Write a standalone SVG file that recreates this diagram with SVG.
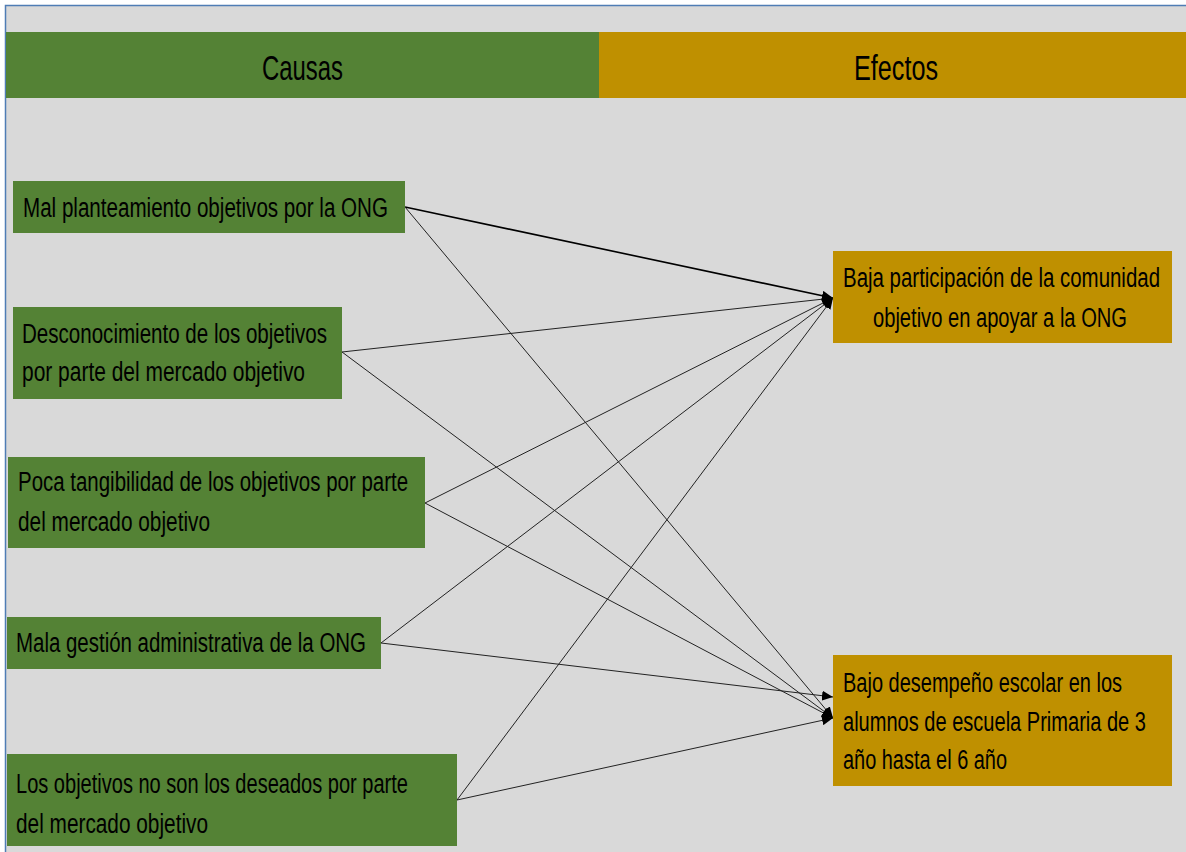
<svg xmlns="http://www.w3.org/2000/svg" width="1186" height="852" viewBox="0 0 1186 852">
<defs>
<style>
.t{font-family:"Liberation Sans Narrow","Liberation Sans",Arial,sans-serif;font-size:28px;fill:#000;}
.h{font-family:"Liberation Sans Narrow","Liberation Sans",Arial,sans-serif;font-size:36px;fill:#000;}
.cause{fill:#548235;}
.effect{fill:#bf9000;}
.c{stroke:#222;stroke-width:1;fill:none;marker-end:url(#ah);}
</style>
<marker id="ah" markerUnits="userSpaceOnUse" markerWidth="12" markerHeight="10" refX="11" refY="5" orient="auto">
<path d="M0,0 L11,5 L0,10 Z" fill="#000"/>
</marker>
</defs>
<rect x="0" y="0" width="1186" height="852" fill="#ffffff"/>
<rect x="5" y="5" width="1181" height="847" fill="#d9d9d9"/>
<path d="M5.5,852 V5.5 H1186" stroke="#4f7db5" stroke-width="1.5" fill="none"/>

<g id="header-causas">
<rect x="6" y="32" width="593" height="66" class="cause"/>
<text class="h" transform="translate(262,80) scale(0.72,1)" textLength="112.5" lengthAdjust="spacingAndGlyphs">Causas</text>
</g>
<g id="header-efectos">
<rect x="599" y="32" width="587" height="66" class="effect"/>
<text class="h" transform="translate(854,80) scale(0.72,1)" textLength="116.7" lengthAdjust="spacingAndGlyphs">Efectos</text>
</g>

<g id="connectors">
<line class="c" x1="405" y1="207" x2="833" y2="298" style="stroke:#000;stroke-width:1.6"/>
<line class="c" x1="405" y1="207" x2="833" y2="718"/>
<line class="c" x1="342" y1="352" x2="833" y2="298"/>
<line class="c" x1="342" y1="352" x2="833" y2="718"/>
<line class="c" x1="425" y1="503" x2="833" y2="298"/>
<line class="c" x1="425" y1="503" x2="833" y2="718"/>
<line class="c" x1="381" y1="643" x2="833" y2="298"/>
<line class="c" x1="381" y1="643" x2="833" y2="697"/>
<line class="c" x1="457" y1="800" x2="833" y2="298"/>
<line class="c" x1="457" y1="800" x2="833" y2="718"/>
</g>

<g id="cause1">
<rect x="13" y="181" width="392" height="52" class="cause"/>
<text class="t" transform="translate(23,217) scale(0.72,1)" textLength="506.9" lengthAdjust="spacingAndGlyphs">Mal planteamiento objetivos por la ONG</text>
</g>
<g id="cause2">
<rect x="13" y="307" width="329" height="92" class="cause"/>
<text class="t" transform="translate(22,343) scale(0.72,1)" textLength="423.6" lengthAdjust="spacingAndGlyphs">Desconocimiento de los objetivos</text>
<text class="t" transform="translate(22,381) scale(0.72,1)" textLength="393.1" lengthAdjust="spacingAndGlyphs">por parte del mercado objetivo</text>
</g>
<g id="cause3">
<rect x="8" y="457" width="417" height="91" class="cause"/>
<text class="t" transform="translate(18,491) scale(0.72,1)" textLength="541.7" lengthAdjust="spacingAndGlyphs">Poca tangibilidad de los objetivos por parte</text>
<text class="t" transform="translate(18,531) scale(0.72,1)" textLength="266.7" lengthAdjust="spacingAndGlyphs">del mercado objetivo</text>
</g>
<g id="cause4">
<rect x="7" y="617" width="374" height="52" class="cause"/>
<text class="t" transform="translate(16,652) scale(0.72,1)" textLength="486.1" lengthAdjust="spacingAndGlyphs">Mala gestión administrativa de la ONG</text>
</g>
<g id="cause5">
<rect x="7" y="754" width="450" height="92" class="cause"/>
<text class="t" transform="translate(16,793) scale(0.72,1)" textLength="544.4" lengthAdjust="spacingAndGlyphs">Los objetivos no son los deseados por parte</text>
<text class="t" transform="translate(16,833) scale(0.72,1)" textLength="266.7" lengthAdjust="spacingAndGlyphs">del mercado objetivo</text>
</g>

<g id="effect1">
<rect x="833" y="251" width="339" height="92" class="effect"/>
<text class="t" transform="translate(843,287) scale(0.72,1)" textLength="440.3" lengthAdjust="spacingAndGlyphs">Baja participación de la comunidad</text>
<text class="t" transform="translate(873,327) scale(0.72,1)" textLength="352.8" lengthAdjust="spacingAndGlyphs">objetivo en apoyar a la ONG</text>
</g>
<g id="effect2">
<rect x="833" y="655" width="339" height="131" class="effect"/>
<text class="t" transform="translate(843,692) scale(0.72,1)" textLength="387.5" lengthAdjust="spacingAndGlyphs">Bajo desempeño escolar en los</text>
<text class="t" transform="translate(843,731) scale(0.72,1)" textLength="420.8" lengthAdjust="spacingAndGlyphs">alumnos de escuela Primaria de 3</text>
<text class="t" transform="translate(843,769) scale(0.72,1)" textLength="227.8" lengthAdjust="spacingAndGlyphs">año hasta el 6 año</text>
</g>
</svg>
